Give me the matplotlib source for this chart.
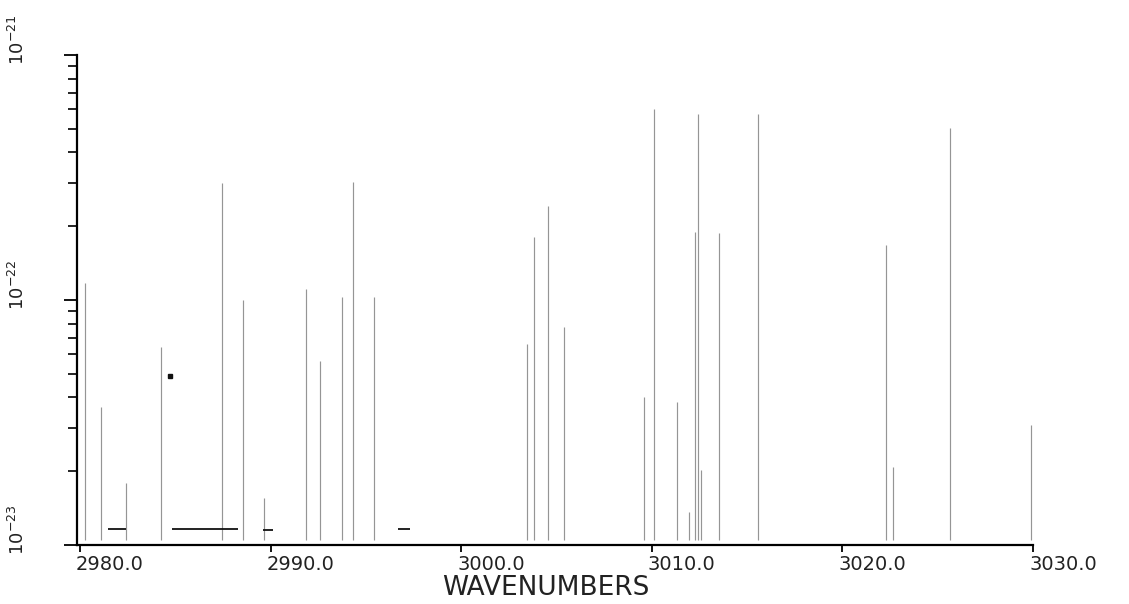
import matplotlib
matplotlib.use("Agg")
import matplotlib.pyplot as plt
import matplotlib.transforms as mtransforms
from matplotlib.ticker import LogLocator, NullFormatter
import numpy as np


# line positions (wavenumbers) and line strengths
wavenumbers = [2980.24, 2981.12, 2982.40, 2984.24, 2987.43, 2988.57, 2989.66,
               2991.86, 2992.60, 2993.72, 2994.30, 2995.40,
               3003.44, 3003.83, 3004.55, 3005.41,
               3009.61, 3010.09, 3011.32, 3011.94, 3012.28, 3012.42, 3012.57,
               3013.54, 3015.57, 3022.27, 3022.67, 3025.66, 3029.91]
strengths = [1.17e-22, 3.66e-23, 1.79e-23, 6.43e-23, 3.01e-22, 1.00e-22, 1.56e-23,
             1.11e-22, 5.64e-23, 1.03e-22, 3.03e-22, 1.03e-22,
             6.60e-23, 1.81e-22, 2.42e-22, 7.76e-23,
             4.02e-23, 6.02e-22, 3.84e-23, 1.36e-23, 1.90e-22, 5.74e-22, 2.02e-23,
             1.88e-22, 5.74e-22, 1.68e-22, 2.08e-23, 5.04e-22, 3.09e-23]
line_floor = 1.05e-23

# short horizontal strokes near the baseline
seg_start = [2981.47, 2984.83, 2989.60, 2996.68]
seg_end = [2982.41, 2988.29, 2990.13, 2997.31]
seg_level = [1.16e-23, 1.16e-23, 1.15e-23, 1.16e-23]

# stray plotter dot
dot_x = [2984.72]
dot_y = [4.9e-23]

xticks = [2980, 2990, 3000, 3010, 3020, 3030]
xticklabels = ['2980.0', '2990.0', '3000.0', '3010.0', '3020.0', '3030.0']
yticks = [1e-23, 1e-22, 1e-21]
yticklabels = [r'$10^{-23}$', r'$10^{-22}$', r'$10^{-21}$']


fig = plt.figure(figsize=(11.29, 6.04), dpi=100)
ax = fig.add_axes([0.0682, 0.0977, 0.8468, 0.8113])

ax.vlines(wavenumbers, line_floor, strengths, colors='#959595', linewidth=0.85)
ax.hlines(seg_level, seg_start, seg_end, colors='#111111', linewidth=1.3)
ax.plot(dot_x, dot_y, 's', color='#111111', ms=2.5)

ax.set_yscale('log')
ax.set_xlim(2979.84, 3030)
ax.set_ylim(1e-23, 1e-21)

for side in ['top', 'right']:
    ax.spines[side].set_visible(False)
for side in ['left', 'bottom']:
    ax.spines[side].set_linewidth(1.6)

ax.set_xticks(xticks)
ax.set_xticklabels(xticklabels, fontsize=14, color='#222222')
ax.tick_params(axis='x', direction='out', length=5, width=1.3, pad=2)

ax.yaxis.set_minor_locator(LogLocator(base=10, subs=np.arange(2, 10)))
ax.yaxis.set_minor_formatter(NullFormatter())
ax.set_yticks(yticks)
ax.set_yticklabels(yticklabels, fontsize=13, rotation=90, va='bottom', color='#222222')
ax.tick_params(axis='y', which='major', direction='out', length=9.5, width=1.3, pad=26)
ax.tick_params(axis='y', which='minor', direction='out', length=6.5, width=1.2)

# plotter labels sit a little off the ticks
shift_x = mtransforms.ScaledTranslation(0.30, 0, fig.dpi_scale_trans)
for lab in ax.get_xticklabels():
    lab.set_transform(lab.get_transform() + shift_x)
shift_y = mtransforms.ScaledTranslation(0, -0.10, fig.dpi_scale_trans)
for lab in ax.get_yticklabels():
    lab.set_transform(lab.get_transform() + shift_y)

ax.set_xlabel('WAVENUMBERS', fontsize=19, color='#222222')
ax.xaxis.set_label_coords(0.49, -0.102, transform=ax.transAxes)
ax.xaxis.label.set_va('baseline')

fig.savefig('out.png', dpi=100)
